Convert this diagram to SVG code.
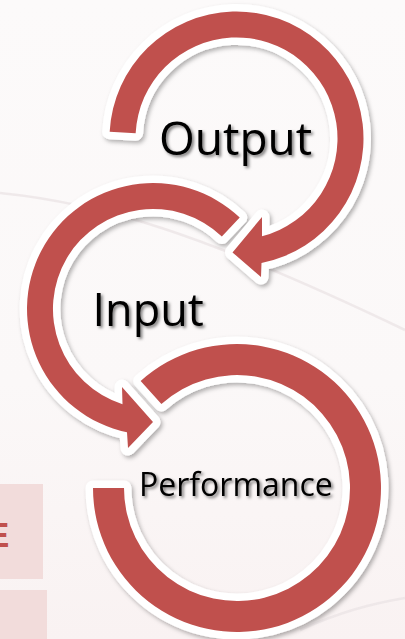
<svg xmlns="http://www.w3.org/2000/svg" width="405" height="639" viewBox="0 0 405 639">
<defs>
<linearGradient id="bg" x1="0" y1="0" x2="0" y2="1">
<stop offset="0" stop-color="#FCFAFA"/>
<stop offset="0.6" stop-color="#FBF8F8"/>
<stop offset="1" stop-color="#F9F2F2"/>
</linearGradient>
<filter id="shadow" x="-10%" y="-10%" width="130%" height="130%">
<feDropShadow dx="2" dy="2.5" stdDeviation="2" flood-color="#000" flood-opacity="0.3"/>
</filter>
<filter id="tshadow" x="-10%" y="-30%" width="130%" height="170%">
<feDropShadow dx="2" dy="2" stdDeviation="1.5" flood-color="#000" flood-opacity="0.5"/>
</filter>
<path id="shapeT" d="M109.67,131.85 A127,127 0 1 1 261.5,263 L261,277 L232.5,252.4 L262,217 L262,236.2 A101,101 0 1 0 135.64,133.21 Z"/>
<path id="shapeM" d="M239.73,217.6 A126,126 0 1 0 127,432.3 L128,448 L153,422 L122,387 L122.5,404.2 A100,100 0 1 1 221.84,236.46 Z"/>
<path id="shapeB" d="M93,488 A144,144 0 1 0 140.64,380.99 L161.39,404.03 A113,113 0 1 1 124,488 Z"/>
</defs>
<style>
.halo{fill:#fff;stroke:#fff;stroke-width:15;stroke-linejoin:round;filter:url(#shadow)}
.band{fill:#C0504D}
.lbl{font-family:'Open Sans','Noto Sans',sans-serif;fill:#000;filter:url(#tshadow)}
.panel{fill:#F2DCDB}
.streak{fill:none;stroke:#E9E3E4;stroke-width:2.5;opacity:0.7}
</style>
<rect width="405" height="639" fill="url(#bg)"/>
<path class="streak" d="M0,193 C100,203 200,232 405,330"/>
<path class="streak" d="M300,630 C340,612 370,604 405,598" opacity="0.5"/>
<g id="side-panel">
<rect class="panel" x="0" y="484" width="43" height="95"/>
<rect class="panel" x="0" y="590" width="47" height="49"/>
<text x="-14" y="547" font-family="'Liberation Sans',Arial,sans-serif" font-weight="bold" font-size="35" fill="#C0504D">E</text>
</g>
<g id="connectors">
<g id="node-performance">
<use href="#shapeB" class="halo"/>
<use href="#shapeB" class="band"/>
<text class="lbl" x="139" y="496" font-size="32">Performance</text>
</g>
<g id="node-input">
<use href="#shapeM" class="halo"/>
<use href="#shapeM" class="band"/>
<text class="lbl" x="92.5" y="326" font-size="45">Input</text>
</g>
<g id="node-output">
<use href="#shapeT" class="halo"/>
<use href="#shapeT" class="band"/>
<text class="lbl" x="159" y="155" font-size="46">Output</text>
</g>
</g>
</svg>
